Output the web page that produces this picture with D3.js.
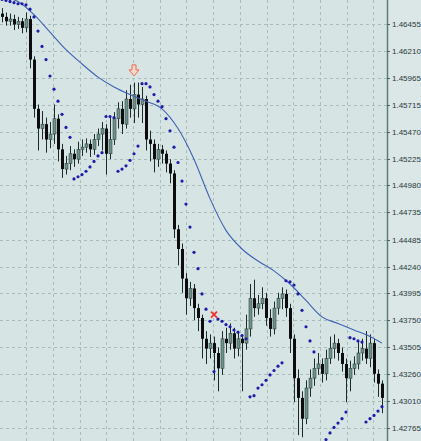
<!DOCTYPE html><html><head><meta charset="utf-8">
<script src="https://cdn.jsdelivr.net/npm/d3@7"></script>
<style>body{margin:0;background:#d7e4e4}svg{display:block}</style></head><body>
<script>
const tickLabels=["1.46455","1.46210","1.45965","1.45715","1.45470","1.45225","1.44980","1.44735","1.44485","1.44240","1.43995","1.43750","1.43505","1.43260","1.43010","1.42765"];
const opens=[1.4655,1.4652,1.4648,1.4650,1.4645,1.4648,1.4642,1.4650,1.4613,1.4568,1.4550,1.4554,1.4540,1.4545,1.4559,1.4531,1.4513,1.4518,1.4527,1.4522,1.4531,1.4533,1.4536,1.4531,1.4540,1.4545,1.4550,1.4527,1.4540,1.4559,1.4568,1.4554,1.4577,1.4568,1.4581,1.4572,1.4577,1.4540,1.4536,1.4522,1.4531,1.4527,1.4518,1.4509,1.4458,1.4440,1.4413,1.4395,1.4404,1.4386,1.4377,1.4358,1.4349,1.4354,1.4345,1.4331,1.4358,1.4354,1.4363,1.4349,1.4358,1.4354,1.4367,1.4395,1.4386,1.4390,1.4395,1.4377,1.4367,1.4386,1.4395,1.4399,1.4386,1.4358,1.4322,1.4304,1.4285,1.4313,1.4322,1.4331,1.4335,1.4326,1.4340,1.4349,1.4354,1.4345,1.4335,1.4322,1.4331,1.4335,1.4345,1.4349,1.4340,1.4354,1.4326,1.4317];
const closes=[1.4652,1.4648,1.4650,1.4645,1.4648,1.4642,1.4650,1.4613,1.4568,1.4550,1.4554,1.4540,1.4545,1.4559,1.4531,1.4513,1.4518,1.4527,1.4522,1.4531,1.4533,1.4536,1.4531,1.4540,1.4545,1.4550,1.4527,1.4540,1.4559,1.4568,1.4554,1.4577,1.4568,1.4581,1.4572,1.4577,1.4540,1.4536,1.4522,1.4531,1.4527,1.4518,1.4509,1.4458,1.4440,1.4413,1.4395,1.4404,1.4386,1.4377,1.4358,1.4349,1.4354,1.4345,1.4331,1.4358,1.4354,1.4363,1.4349,1.4358,1.4354,1.4367,1.4395,1.4386,1.4390,1.4395,1.4377,1.4367,1.4386,1.4395,1.4399,1.4386,1.4358,1.4322,1.4304,1.4285,1.4313,1.4322,1.4331,1.4335,1.4326,1.4340,1.4349,1.4354,1.4345,1.4335,1.4322,1.4331,1.4335,1.4345,1.4349,1.4340,1.4354,1.4326,1.4317,1.4304];
const highs=[1.4660,1.4656,1.4655,1.4654,1.4652,1.4651,1.4656,1.4653,1.4616,1.4572,1.4566,1.4560,1.4556,1.4572,1.4563,1.4536,1.4525,1.4534,1.4531,1.4538,1.4540,1.4541,1.4540,1.4545,1.4550,1.4556,1.4554,1.4560,1.4565,1.4574,1.4575,1.4585,1.4590,1.4592,1.4592,1.4588,1.4580,1.4548,1.4540,1.4536,1.4535,1.4530,1.4522,1.4512,1.4462,1.4445,1.4418,1.4410,1.4408,1.4390,1.4380,1.4365,1.4362,1.4360,1.4350,1.4365,1.4368,1.4372,1.4368,1.4365,1.4362,1.4380,1.4408,1.4412,1.4398,1.4405,1.4400,1.4385,1.4392,1.4400,1.4405,1.4403,1.4390,1.4362,1.4330,1.4310,1.4320,1.4330,1.4340,1.4345,1.4340,1.4348,1.4360,1.4362,1.4358,1.4350,1.4340,1.4338,1.4342,1.4355,1.4358,1.4365,1.4362,1.4358,1.4330,1.4320];
const lows=[1.4647,1.4644,1.4644,1.4640,1.4641,1.4637,1.4638,1.4605,1.4560,1.4530,1.4540,1.4528,1.4532,1.4536,1.4520,1.4505,1.4508,1.4512,1.4515,1.4518,1.4525,1.4528,1.4524,1.4526,1.4534,1.4530,1.4508,1.4522,1.4535,1.4550,1.4545,1.4550,1.4560,1.4555,1.4560,1.4555,1.4530,1.4520,1.4510,1.4515,1.4518,1.4510,1.4500,1.4450,1.4425,1.4400,1.4380,1.4388,1.4375,1.4365,1.4340,1.4335,1.4340,1.4320,1.4310,1.4325,1.4345,1.4348,1.4340,1.4342,1.4310,1.4348,1.4360,1.4378,1.4380,1.4385,1.4370,1.4360,1.4362,1.4380,1.4385,1.4378,1.4345,1.4300,1.4270,1.4268,1.4280,1.4305,1.4315,1.4325,1.4318,1.4320,1.4335,1.4340,1.4338,1.4328,1.4300,1.4310,1.4325,1.4330,1.4338,1.4335,1.4332,1.4318,1.4305,1.4290];
const sar=[1.4668,1.4667,1.4666,1.4665,1.4664,1.4664,1.4663,1.4659,1.4652,1.4639,1.4625,1.4613,1.4598,1.4586,1.4575,1.4563,1.4551,1.4542,1.4504,1.4506,1.4508,1.4511,1.4515,1.4520,1.4525,1.4528,1.4561,1.4561,1.4560,1.4511,1.4513,1.4516,1.4521,1.4527,1.4534,1.4591,1.4591,1.4588,1.4581,1.4575,1.4570,1.4559,1.4548,1.4533,1.4519,1.4502,1.4481,1.4460,1.4437,1.4422,1.4399,1.4385,1.4374,1.4328,1.4376,1.4374,1.4371,1.4369,1.4366,1.4364,1.4361,1.4358,1.4305,1.4306,1.4313,1.4316,1.4320,1.4325,1.4329,1.4333,1.4336,1.4411,1.4410,1.4407,1.4399,1.4384,1.4369,1.4356,1.4346,1.4260,1.4263,1.4266,1.4272,1.4277,1.4281,1.4285,1.4291,1.4359,1.4358,1.4356,1.4355,1.4282,1.4285,1.4288,1.4292,1.4296];
const maIdx=[0,4,8,12,16,20,24,28,32,36,40,44,48,52,56,60,64,68,72,76,80,84,88,92,95];
const maVals=[1.4670,1.4666,1.4654,1.4638,1.4622,1.4609,1.4597,1.4588,1.4581,1.4575,1.4568,1.4550,1.4522,1.4486,1.4457,1.4440,1.4429,1.4420,1.4408,1.4393,1.4378,1.4372,1.4366,1.4360,1.4354];
const arrowMark={i:33,p:1.4599}, crossMark={i:53,p:1.4380};

const W=421,H=441,axisX=387;
const svg=d3.select("body").append("svg").attr("width",W).attr("height",H);
svg.append("rect").attr("width",W).attr("height",H).attr("fill","#d7e4e4");
const x=d3.scaleLinear().domain([0,1]).range([2,6]);
const y=d3.scaleLinear().domain([1.46455,1.42765]).range([24,428]);
const g=svg.append("g");
g.append("clipPath").attr("id","c").append("rect").attr("width",axisX).attr("height",H);
const plot=g.append("g").attr("clip-path","url(#c)");
const tickVals=tickLabels.map(Number);
plot.selectAll(".hg").data(tickVals).join("line").attr("x1",0).attr("x2",axisX).attr("y1",d=>Math.round(y(d))+.5).attr("y2",d=>Math.round(y(d))+.5).attr("stroke","#a9bcbc").attr("stroke-dasharray","3,3");
const gridIdx=d3.range(6.1,96,6.67);
plot.selectAll(".vg").data(gridIdx).join("line").attr("y1",0).attr("y2",H).attr("x1",d=>Math.round(x(d))+.5).attr("x2",d=>Math.round(x(d))+.5).attr("stroke","#a9bcbc").attr("stroke-dasharray","3,3");
const idx=d3.range(closes.length);
plot.selectAll(".w").data(idx).join("line").attr("x1",i=>Math.round(x(i))+.5).attr("x2",i=>Math.round(x(i))+.5).attr("y1",i=>y(highs[i])).attr("y2",i=>y(lows[i])).attr("stroke","#1c2a28");
plot.selectAll(".b").data(idx).join("rect").attr("x",i=>Math.round(x(i))-1).attr("width",3)
 .attr("y",i=>y(Math.max(opens[i],closes[i]))).attr("height",i=>Math.max(1,Math.abs(y(opens[i])-y(closes[i]))))
 .attr("fill",i=>closes[i]>=opens[i]?"#6f928d":"#0d0d0d").attr("stroke",i=>closes[i]>=opens[i]?"#2f4643":"none").attr("stroke-width",.6);
plot.append("path").datum(maIdx).attr("d",d3.line().x(i=>x(i)).y((i,k)=>y(maVals[k])).curve(d3.curveMonotoneX)).attr("fill","none").attr("stroke","#3e62b4").attr("stroke-width",1.1);
plot.selectAll(".s").data(idx).join("circle").attr("cx",i=>x(i)).attr("cy",i=>y(sar[i])).attr("r",1.6).attr("fill","#1c1ca8");
const ax=x(arrowMark.i), ay=y(arrowMark.p);
plot.append("path").attr("d",`M${ax-2},${ay-10}h4v5h3l-5,6l-5,-6h3z`).attr("fill","#f6d8cc").attr("stroke","#ee6a50").attr("stroke-width",1);
const cx=x(crossMark.i), cy=y(crossMark.p);
plot.append("path").attr("d",`M${cx-3},${cy-3}L${cx+3},${cy+3}M${cx+3},${cy-3}L${cx-3},${cy+3}`).attr("stroke","#f03030").attr("stroke-width",1.8);
svg.append("rect").attr("x",axisX).attr("width",W-axisX).attr("height",H).attr("fill","#dbe6e6");
svg.append("line").attr("x1",axisX+.5).attr("x2",axisX+.5).attr("y1",0).attr("y2",H).attr("stroke","#5d7d7a").attr("stroke-width",1.5);
const ax2=svg.append("g");
tickVals.forEach((v,k)=>{
 ax2.append("line").attr("x1",axisX).attr("x2",axisX+3).attr("y1",Math.round(y(v))+.5).attr("y2",Math.round(y(v))+.5).attr("stroke","#4a6360");
 ax2.append("text").attr("x",axisX+5).attr("y",y(v)+3).text(tickLabels[k]).attr("font-family","Liberation Sans, Arial, sans-serif").attr("font-size",8).attr("fill","#2a3a3a");
});
</script></body></html>
